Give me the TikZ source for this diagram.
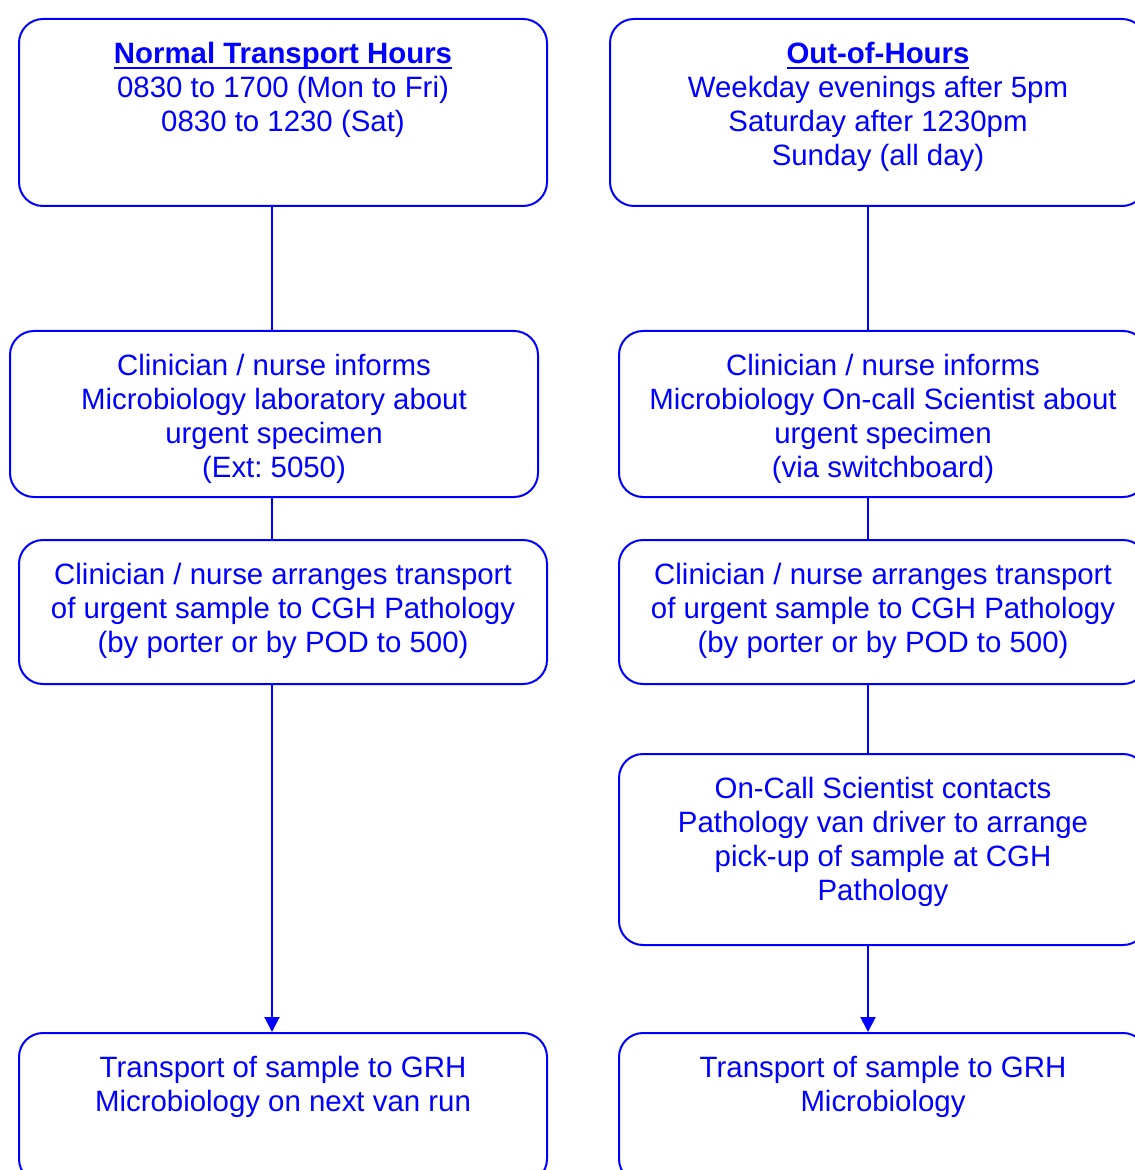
\documentclass[tikz,border=0pt]{standalone}
\usepackage{fontspec}
\setmainfont{Liberation Sans}
\frenchspacing
\usetikzlibrary{positioning,arrows.meta}
\definecolor{flowblue}{RGB}{0,0,255}
\newcommand{\headline}[1]{\setbox0\hbox{\bfseries #1}\leavevmode\rlap{\rule[-2.7pt]{\wd0}{1.2pt}}\box0}
\tikzset{
    stage box/.style={draw=flowblue, line width=1pt, rounded corners=12pt, anchor=north west, minimum width=264pt, inner sep=0pt},
    stage text/.style={text=flowblue, font=\fontsize{14.7}{17}\selectfont, align=center, inner sep=0pt},
    link/.style={draw=flowblue, line width=1pt}
}
\begin{document}
\begin{tikzpicture}[x=0.5pt,y=-0.5pt,>={Triangle[length=7.5pt,width=7.5pt]}]
    \useasboundingbox (0,0) rectangle (1134,1170);
    \coordinate (lcol) at (272,0);
    \coordinate (rcol) at (868,0);

    % normal transport hours
    \node[stage box, minimum height=93.5pt] (normal) at (18,18) {};
    \node[stage text, below=12pt of normal.north] (normaltxt) {\headline{Normal Transport Hours}\\0830 to 1700 (Mon to Fri)\\0830 to 1230 (Sat)};
    \node[stage box, minimum height=83pt] (normalcall) at (9,330) {};
    \node[stage text, below=12pt of normalcall.north] (normalcalltxt) {Clinician / nurse informs\\Microbiology laboratory about\\urgent specimen\\(Ext: 5050)};
    \node[stage box, minimum height=72pt] (normalport) at (18,539) {};
    \node[stage text, below=12pt of normalport.north] (normalporttxt) {Clinician / nurse arranges transport\\of urgent sample to CGH Pathology\\(by porter or by POD to 500)};
    \node[stage box, minimum height=75pt] (normalvan) at (18,1032) {};
    \node[stage text, below=12pt of normalvan.north] (normalvantxt) {Transport of sample to GRH\\Microbiology on next van run};

    % out of hours
    \node[stage box, minimum width=268pt, minimum height=93.5pt] (ooh) at (609,18) {};
    \node[stage text, below=12pt of ooh.north] (oohtxt) {\headline{Out-of-Hours}\\Weekday evenings after 5pm\\Saturday after 1230pm\\Sunday (all day)};
    \node[stage box, minimum height=83pt] (oohcall) at (618,330) {};
    \node[stage text, below=12pt of oohcall.north] (oohcalltxt) {Clinician / nurse informs\\Microbiology On-call Scientist about\\urgent specimen\\(via switchboard)};
    \node[stage box, minimum height=72pt] (oohport) at (618,539) {};
    \node[stage text, below=12pt of oohport.north] (oohporttxt) {Clinician / nurse arranges transport\\of urgent sample to CGH Pathology\\(by porter or by POD to 500)};
    \node[stage box, minimum height=95.5pt] (oohdriver) at (618,753) {};
    \node[stage text, below=12pt of oohdriver.north] (oohdrivertxt) {On-Call Scientist contacts\\Pathology van driver to arrange\\pick-up of sample at CGH\\Pathology};
    \node[stage box, minimum height=75pt] (oohvan) at (618,1032) {};
    \node[stage text, below=12pt of oohvan.north] (oohvantxt) {Transport of sample to GRH\\Microbiology};

    % connectors
    \draw[link] (normal.south -| lcol) -- (normalcall.north -| lcol);
    \draw[link] (normalcall.south -| lcol) -- (normalport.north -| lcol);
    \draw[link, ->] (normalport.south -| lcol) -- (normalvan.north -| lcol);
    \draw[link] (ooh.south -| rcol) -- (oohcall.north -| rcol);
    \draw[link] (oohcall.south -| rcol) -- (oohport.north -| rcol);
    \draw[link] (oohport.south -| rcol) -- (oohdriver.north -| rcol);
    \draw[link, ->] (oohdriver.south -| rcol) -- (oohvan.north -| rcol);
\end{tikzpicture}
\end{document}
